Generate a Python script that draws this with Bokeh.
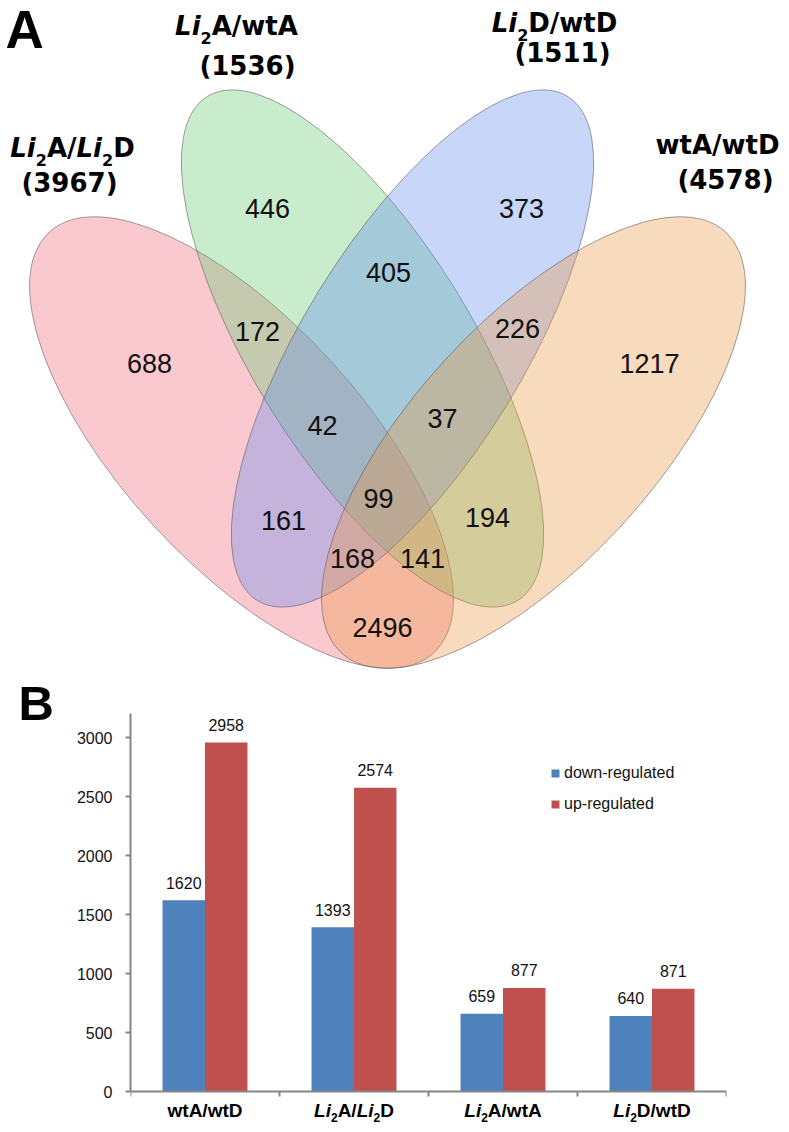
from bokeh.plotting import figure
from bokeh.layouts import column, row
from bokeh.models import (ColumnDataSource, Range1d, FixedTicker, Label, LabelSet, Legend,
                          LegendItem, LinearAxis)
from bokeh.core.properties import value, field
from bokeh.transform import dodge
from bokeh.embed import file_html
from bokeh.resources import INLINE

# ---------------- data ----------------
set_names = ["Li2A/Li2D", "Li2A/wtA", "Li2D/wtD", "wtA/wtD"]
set_totals = [3967, 1536, 1511, 4578]
region_counts = [688, 446, 373, 1217, 172, 405, 226, 2496, 42, 161, 37, 194, 168, 141, 99]

categories = ["wtA/wtD", "Li2A/Li2D", "Li2A/wtA", "Li2D/wtD"]
down_regulated = [1620, 1393, 659, 640]
up_regulated = [2958, 2574, 877, 871]
y_ticks = [0, 500, 1000, 1500, 2000, 2500, 3000]
series_names = ["down-regulated", "up-regulated"]

# ---------------- layout constants (page pixel coords) ----------------
W, H1, H2 = 789, 672, 460
WB = 70
MID = 0.35   # distance (in em) from baseline to the "middle" anchor
def X(ix): return ix
def Y(iy): return H1 - iy

ell_cx = [241, 362, 412, 533]
ell_cy = [442, 348, 348, 442]
ell_a = [285, 296, 296, 285]
ell_b = [121, 110, 110, 121]
ell_ang = [-47.6, -58.4, 58.4, 47.6]
ell_col = ["#f06478", "#62c96d", "#628af1", "#ec9540"]

reg_x = [149, 267, 521, 649, 257, 388, 517, 382, 322, 283, 442, 487, 352, 422, 378]
reg_y = [363, 208, 208, 363, 331, 272, 328, 627, 425, 520, 418, 517, 558, 558, 498]

title_pieces = [
    [("Li", "it"), ("2", "sub"), ("A/", "b"), ("Li", "it"), ("2", "sub"), ("D", "b")],
    [("Li", "it"), ("2", "sub"), ("A/wtA", "b")],
    [("Li", "it"), ("2", "sub"), ("D/wtD", "b")],
    [("wtA/wtD", "b")],
]
title_cx = [72, 236, 554, 717]
title_base = [157, 35, 32, 154]
total_cx = [69, 247, 562, 725]
total_base = [192, 75, 62, 189]

DV = {"A": 0.774, "D": 0.830, "L": 0.637, "i": 0.343, "w": 0.923, "t": 0.478,
      "/": 0.365, "(": 0.458, ")": 0.458}
AR = {"A": 0.722, "D": 0.722, "L": 0.611, "i": 0.278, "w": 0.778, "t": 0.333, "/": 0.278}
def cw(metrics, ch):
    if ch.isdigit():
        return 0.696 if metrics is DV else 0.556
    return metrics.get(ch, 0.6)

def layout_pieces(pieces, metrics, size, sub_size):
    ws = []
    for txt, kind in pieces:
        s = sub_size if kind == "sub" else size
        ws.append(sum(cw(metrics, c) for c in txt) * s)
    total = sum(ws)
    out = []
    x = -total / 2
    for (txt, kind), w in zip(pieces, ws):
        out.append((txt, kind, x))
        x += w
    return out

# ---------------- Venn figure ----------------
p1 = figure(width=W, height=H1, x_range=Range1d(0, W), y_range=Range1d(0, H1),
            output_backend="svg", toolbar_location=None, x_axis_type=None, y_axis_type=None,
            min_border=0, outline_line_color=None)
p1.frame_align = False

esrc = ColumnDataSource(dict(x=[X(v) for v in ell_cx], y=[Y(v) for v in ell_cy],
                             w=[2 * v for v in ell_a], h=[2 * v for v in ell_b],
                             ang=ell_ang, color=ell_col))
p1.ellipse(x="x", y="y", width="w", height="h", angle="ang", angle_units="deg",
           fill_color="color", fill_alpha=0.35, line_color="#555555", line_alpha=0.55,
           line_width=1, source=esrc)

rsrc = ColumnDataSource(dict(x=[X(v) for v in reg_x], y=[Y(v) for v in reg_y],
                             t=[str(v) for v in region_counts]))
p1.text(x="x", y="y", text="t", source=rsrc, text_font=value("Liberation Sans"),
        text_font_size="27px", text_align="center", text_baseline="middle", text_color="#111111")

tx, ty, tt, tsz, tst = [], [], [], [], []
T_SIZE, T_SUB, T_DROP = 26, 16, 8
for pieces, cx, by, tot, tcx, tby in zip(title_pieces, title_cx, title_base, set_totals, total_cx, total_base):
    for txt, kind, off in layout_pieces(pieces, DV, T_SIZE, T_SUB):
        s_ = T_SUB if kind == "sub" else T_SIZE
        base = by + (T_DROP if kind == "sub" else 0)
        tx.append(X(cx) + off)
        ty.append(Y(base - MID * s_))
        tt.append(txt)
        tsz.append("%dpx" % s_)
        tst.append("bold italic" if kind == "it" else "bold")
    s = "(%d)" % tot
    w = sum(cw(DV, c) for c in s) * T_SIZE
    tx.append(X(tcx) - w / 2); ty.append(Y(tby - MID * T_SIZE)); tt.append(s)
    tsz.append("%dpx" % T_SIZE); tst.append("bold")
tsrc = ColumnDataSource(dict(x=tx, y=ty, t=tt, sz=tsz, st=tst))
p1.text(x="x", y="y", text="t", source=tsrc, text_font=value("DejaVu Sans"),
        text_font_size=field("sz"), text_font_style=field("st"), text_align="left",
        text_baseline="middle", text_color="#000000")

p1.text(x=[X(5)], y=[Y(48 - MID * 53)], text=["A"], text_font=value("Liberation Sans"),
        text_font_size="53px", text_font_style="bold", text_baseline="middle",
        text_color="#000000")

# ---------------- "B" panel ----------------
pB = figure(width=WB, height=H2, x_range=Range1d(0, WB), y_range=Range1d(0, H2),
            output_backend="svg", toolbar_location=None, x_axis_type=None, y_axis_type=None,
            min_border=0, outline_line_color=None)
pB.frame_align = False
pB.text(x=[18], y=[H2 - (720 - MID * 49 - H1)], text=["B"], text_font=value("Liberation Sans"),
        text_font_size="49px", text_font_style="bold", text_baseline="middle",
        text_color="#000000")

# ---------------- bar figure ----------------
PX_PER_UNIT = 354 / 3000.0
FRAME_TOP, AXIS_Y, FRAME_BOT = 682, 1091, H1 + H2
y_lo = -(FRAME_BOT - AXIS_Y) / PX_PER_UNIT
y_hi = (AXIS_Y - FRAME_TOP) / PX_PER_UNIT
p2 = figure(width=W - WB, height=H2, x_range=Range1d(0, len(categories)),
            y_range=Range1d(y_lo, y_hi), x_axis_type=None,
            output_backend="svg", toolbar_location=None,
            min_border_left=130 - WB, min_border_right=W - 726,
            min_border_top=FRAME_TOP - H1, min_border_bottom=0,
            outline_line_color=None)
p2.frame_align = False
p2.ygrid.visible = False

xs = [i + 0.5 for i in range(len(categories))]
bsrc = ColumnDataSource(dict(x=xs, down=down_regulated, up=up_regulated,
                             dl=[str(v) for v in down_regulated], ul=[str(v) for v in up_regulated]))
BW = 0.285
r1 = p2.vbar(x=dodge("x", -BW / 2), top="down", width=BW, fill_color="#4F81BD",
             line_color=None, source=bsrc)
r2 = p2.vbar(x=dodge("x", BW / 2), top="up", width=BW, fill_color="#C0504D",
             line_color=None, source=bsrc)

for key, col, off in (("dl", "down", -BW / 2), ("ul", "up", BW / 2)):
    p2.add_layout(LabelSet(x=dodge("x", off), y=col, text=key,
                           source=bsrc, text_align="center", text_baseline="middle",
                           y_offset=12 + MID * 16, text_font=value("Liberation Sans"),
                           text_font_size="16px", text_color="#111111"))

xaxis = LinearAxis(fixed_location=0, ticker=FixedTicker(ticks=list(range(len(categories) + 1))))
xaxis.major_label_overrides = {i: "" for i in range(len(categories) + 1)}
xaxis.major_label_text_font_size = "0px"
xaxis.major_label_standoff = 0
xaxis.major_tick_in = 5
xaxis.major_tick_out = 0
p2.add_layout(xaxis, "above")

yaxis = p2.yaxis[0]
yaxis.ticker = FixedTicker(ticks=y_ticks)
yaxis.bounds = (0, 3200)
yaxis.major_label_standoff = 13
yaxis.major_tick_in = 0
yaxis.major_tick_out = 5
yaxis.major_label_text_font = "Liberation Sans"
yaxis.major_label_text_font_size = "16px"
yaxis.major_label_text_color = "#111111"
for ax in (xaxis, yaxis):
    ax.axis_line_color = "#868686"
    ax.axis_line_width = 2
    ax.major_tick_line_color = "#868686"
    ax.major_tick_line_width = 2
    ax.minor_tick_line_color = None

cat_pieces = [
    [("wtA/wtD", "b")],
    [("Li", "it"), ("2", "sub"), ("A/", "b"), ("Li", "it"), ("2", "sub"), ("D", "b")],
    [("Li", "it"), ("2", "sub"), ("A/wtA", "b")],
    [("Li", "it"), ("2", "sub"), ("D/wtD", "b")],
]
C_SIZE, C_SUB, C_DROP, C_BASE = 19, 12, 4, 26
for xc, pieces in zip(xs, cat_pieces):
    for txt, kind, off in layout_pieces(pieces, AR, C_SIZE, C_SUB):
        s_ = C_SUB if kind == "sub" else C_SIZE
        drop = C_BASE + (C_DROP if kind == "sub" else 0)
        p2.add_layout(Label(x=xc, y=0, x_offset=off,
                            y_offset=-(drop - MID * s_), text=txt,
                            text_font="Liberation Sans",
                            text_font_size="%dpx" % s_,
                            text_font_style="bold italic" if kind == "it" else "bold",
                            text_align="left", text_baseline="middle", text_color="#000000"))

legend = Legend(items=[LegendItem(label=series_names[0], renderers=[r1]),
                       LegendItem(label=series_names[1], renderers=[r2])],
                location=(420, FRAME_BOT - 814), glyph_width=10, glyph_height=10, label_standoff=4,
                label_text_font="Liberation Sans", label_text_font_size="16px",
                label_text_color="#111111", label_height=20, spacing=11, padding=0, margin=0,
                border_line_color=None, background_fill_alpha=0)
p2.add_layout(legend)

layout = column(p1, row(pB, p2, spacing=0), spacing=0)
open("out.html", "w").write(file_html(layout, INLINE))
